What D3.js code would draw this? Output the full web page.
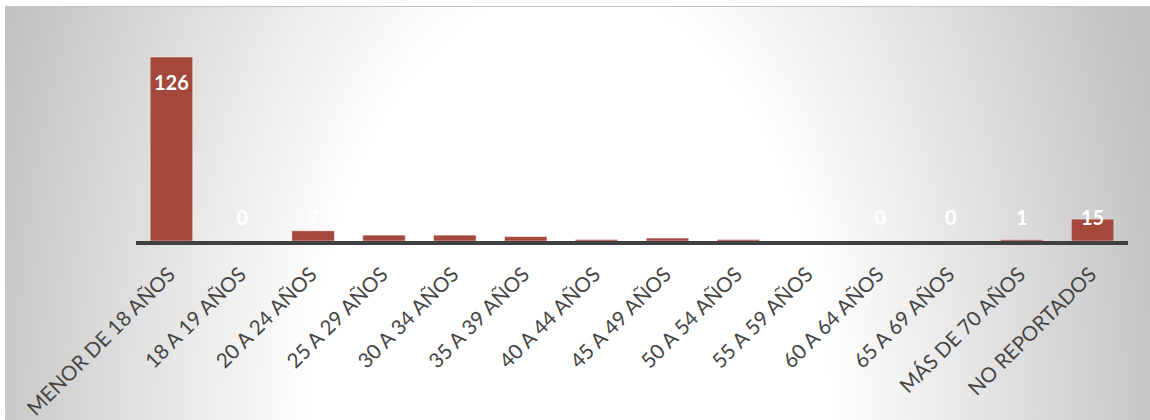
<!DOCTYPE html>
<html>
<head>
<meta charset="utf-8">
<script src="https://cdn.jsdelivr.net/npm/d3@7"></script>
<style>
  body { margin: 0; background: #fff; }
</style>
</head>
<body>
<script>
// datos
var categorias = ["MENOR DE 18 AÑOS", "18 A 19 AÑOS", "20 A 24 AÑOS", "25 A 29 AÑOS",
  "30 A 34 AÑOS", "35 A 39 AÑOS", "40 A 44 AÑOS", "45 A 49 AÑOS", "50 A 54 AÑOS",
  "55 A 59 AÑOS", "60 A 64 AÑOS", "65 A 69 AÑOS", "MÁS DE 70 AÑOS", "NO REPORTADOS"];
var valores = [126, 0, 7, 4, 4, 3, 1, 2, 1, 0, 0, 0, 1, 15];

var width = 1150, height = 420;

var svg = d3.select("body").append("svg")
  .attr("width", width)
  .attr("height", height);

// fondo con degradado radial
var defs = svg.append("defs");
var grad = defs.append("radialGradient")
  .attr("id", "fondo")
  .attr("gradientUnits", "userSpaceOnUse")
  .attr("cx", 570).attr("cy", 430).attr("r", 620)
  .attr("gradientTransform", "translate(570,430) scale(1,1.69) translate(-570,-430)");
grad.append("stop").attr("offset", 0).attr("stop-color", "#ffffff");
grad.append("stop").attr("offset", 0.42).attr("stop-color", "#ffffff");
grad.append("stop").attr("offset", 1).attr("stop-color", "#c0c0c0");

svg.append("rect")
  .attr("x", 5).attr("y", 6)
  .attr("width", width - 5).attr("height", height - 6)
  .attr("fill", "url(#fondo)");
svg.append("line")
  .attr("x1", 5).attr("x2", width)
  .attr("y1", 6.5).attr("y2", 6.5)
  .attr("stroke", "#c4c4c4")
  .attr("stroke-width", 1);

// escalas
var x = d3.scaleBand()
  .domain(categorias)
  .range([136, 1128])
  .paddingInner(0.4)
  .paddingOuter(0.2);

var y = d3.scaleLinear()
  .domain([0, 126])
  .range([241, 57]);

// barras
svg.selectAll(".barra")
  .data(valores)
  .enter().append("rect")
  .attr("class", "barra")
  .attr("x", function(d, i) { return x(categorias[i]); })
  .attr("y", function(d) { return y(d); })
  .attr("width", x.bandwidth())
  .attr("height", function(d) { return y(0) - y(d); })
  .attr("fill", "#a5483c")
  .attr("stroke", "rgba(255,255,255,0.45)")
  .attr("stroke-width", 1);

// eje
svg.append("line")
  .attr("x1", 136).attr("x2", 1128)
  .attr("y1", y(0) + 2).attr("y2", y(0) + 2)
  .attr("stroke", "#404040")
  .attr("stroke-width", 4);

// etiquetas de datos
svg.selectAll(".valor")
  .data(valores)
  .enter().append("text")
  .attr("class", "valor")
  .attr("x", function(d, i) { return x(categorias[i]) + x.bandwidth() / 2; })
  .attr("y", function(d) { return Math.min(y(d) + 33, y(0) - 16); })
  .attr("text-anchor", "middle")
  .attr("font-family", "Lato, 'Open Sans', sans-serif")
  .attr("font-weight", "bold")
  .attr("font-size", 20)
  .attr("fill", "#ffffff")
  .text(function(d) { return d; });

// etiquetas de categorias
svg.selectAll(".cat")
  .data(categorias)
  .enter().append("text")
  .attr("class", "cat")
  .attr("transform", function(d) {
    return "translate(" + (x(d) + x.bandwidth() / 2 + 5) + ",276) rotate(-45)";
  })
  .attr("text-anchor", "end")
  .attr("font-family", "Lato, 'Open Sans', sans-serif")
  .attr("font-size", 20.5)
  .attr("fill", "#454545")
  .text(function(d) { return d; });
</script>
</body>
</html>
